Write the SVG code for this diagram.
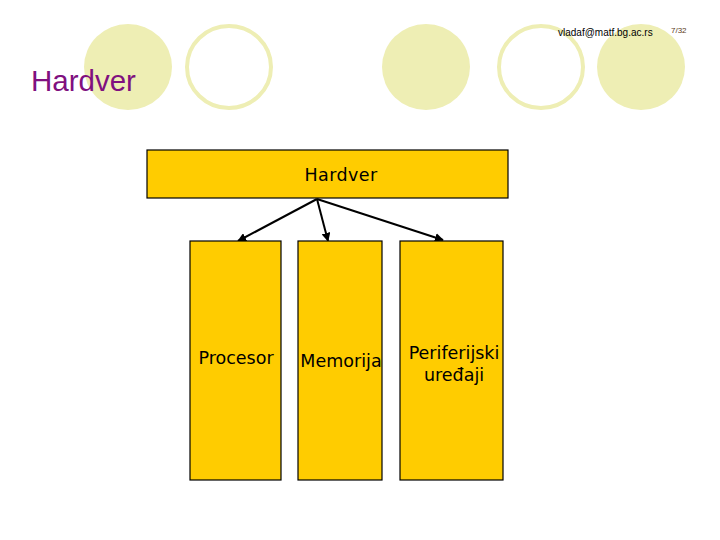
<svg xmlns="http://www.w3.org/2000/svg" width="720" height="540" viewBox="0 0 720 540">
<defs>
<style>
.deco-f{fill:#EEEEB4;}
.deco-o{fill:none;stroke:#EEEEB4;stroke-width:4;}
.box{fill:#FFCC00;stroke:#000000;stroke-width:1.2;}
.lbl{font-family:"DejaVu Sans",Verdana,sans-serif;font-size:17.5px;fill:#000000;text-anchor:middle;}
.conn{stroke:#000000;stroke-width:2;fill:none;marker-end:url(#ah);}
</style>
<marker id="ah" viewBox="0 0 10 10" refX="9" refY="5" markerWidth="4.5" markerHeight="4.5" orient="auto" markerUnits="strokeWidth">
<path d="M0,0 L10,5 L0,10 z" fill="#000000"/>
</marker>
</defs>
<rect width="720" height="540" fill="#FFFFFF"/>
<g id="decor">
<ellipse class="deco-f" cx="128" cy="67" rx="44" ry="43"/>
<ellipse class="deco-o" cx="229" cy="67" rx="42" ry="41"/>
<ellipse class="deco-f" cx="426" cy="67" rx="44" ry="43"/>
<ellipse class="deco-o" cx="541" cy="67" rx="42" ry="41"/>
<ellipse class="deco-f" cx="641" cy="67" rx="44" ry="43"/>
</g>
<text x="558" y="36" font-family="'Liberation Sans',Arial,sans-serif" font-size="10" fill="#000000">vladaf@matf.bg.ac.rs</text>
<text x="671" y="33" font-family="'Liberation Sans',Arial,sans-serif" font-size="8" fill="#5A3A1A">7/32</text>
<text x="31" y="91" font-family="'Liberation Sans',Arial,sans-serif" font-size="29.5" fill="#80107F">Hardver</text>
<g id="connectors">
<line class="conn" x1="317" y1="199" x2="238" y2="241"/>
<line class="conn" x1="317" y1="199" x2="328" y2="241"/>
<line class="conn" x1="317" y1="199" x2="443" y2="240"/>
</g>
<g id="node-hardver">
<rect class="box" x="147" y="150" width="361" height="48"/>
<text class="lbl" x="341" y="181" letter-spacing="0.4">Hardver</text>
</g>
<g id="node-procesor">
<rect class="box" x="190" y="241" width="91" height="239"/>
<text class="lbl" x="236" y="364">Procesor</text>
</g>
<g id="node-memorija">
<rect class="box" x="298" y="241" width="84" height="239"/>
<text class="lbl" x="341" y="367">Memorija</text>
</g>
<g id="node-periferijski">
<rect class="box" x="400" y="241" width="103" height="239"/>
<text class="lbl" x="454" y="359">Periferijski</text>
<text class="lbl" x="454" y="381">uređaji</text>
</g>
</svg>
